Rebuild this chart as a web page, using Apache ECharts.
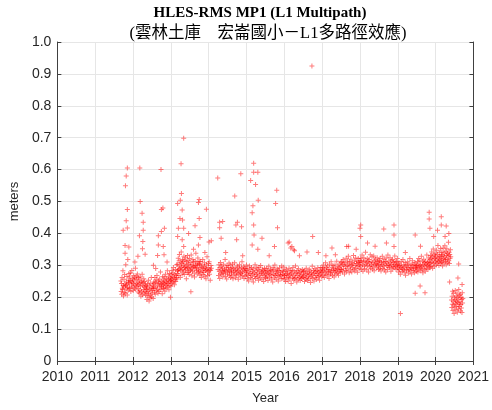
<!DOCTYPE html>
<html>
<head>
<meta charset="utf-8">
<script src="https://cdn.jsdelivr.net/npm/echarts@6/dist/echarts.min.js"></script>
<style>
  html, body { margin: 0; padding: 0; background: #fff; }
  #chart { width: 492px; height: 410px; }
</style>
</head>
<body>
<div id="chart"></div>
<script>
// titles and axis text
const titleLine1 = 'HLES-RMS MP1 (L1 Multipath)';
const titleLine2 = '(雲林土庫　宏崙國小－L1多路徑效應)';
const xTicks = [2010, 2011, 2012, 2013, 2014, 2015, 2016, 2017, 2018, 2019, 2020, 2021];
const yTicks = [0, 0.1, 0.2, 0.3, 0.4, 0.5, 0.6, 0.7, 0.8, 0.9, 1.0];

// daily RMS in blocks (start year, end year, values in order)
const blockFrom = [2011.68, 2011.90, 2012.15, 2012.35, 2012.55, 2012.80, 2013.00, 2013.18, 2013.45, 2013.75,
                   2014.25, 2014.60, 2015.00, 2015.50, 2016.00, 2016.50, 2017.00, 2017.50, 2018.00, 2018.50,
                   2019.00, 2019.50, 2019.85, 2020.15, 2020.42];
const blockTo   = [2011.90, 2012.15, 2012.35, 2012.55, 2012.80, 2013.00, 2013.18, 2013.45, 2013.75, 2014.07,
                   2014.60, 2015.00, 2015.50, 2016.00, 2016.50, 2017.00, 2017.50, 2018.00, 2018.50, 2019.00,
                   2019.50, 2019.85, 2020.15, 2020.40, 2020.72];
const blockValues = [
  [0.251,0.218,0.243,0.209,0.262,0.228,0.224,0.283,0.237,0.204,0.233,0.256,0.215,0.271,0.241,0.212,0.236,0.302,0.226,0.248,0.239,0.265,0.207,0.231,0.318,0.222,0.253,0.245,0.274,0.229],
  [0.244,0.263,0.227,0.252,0.276,0.218,0.249,0.238,0.284,0.232,0.259,0.247,0.221,0.243,0.268,0.254,0.229,0.261,0.236,0.291,0.225,0.257,0.241,0.266,0.234,0.273,0.248,0.239,0.216,0.262],
  [0.228,0.254,0.212,0.243,0.221,0.263,0.234,0.203,0.246,0.217,0.251,0.272,0.208,0.237,0.245,0.224,0.258,0.213,0.232,0.249,0.219,0.241,0.206,0.235,0.226],
  [0.214,0.232,0.193,0.226,0.241,0.204,0.218,0.253,0.211,0.188,0.236,0.223,0.198,0.244,0.207,0.229,0.262,0.201,0.221,0.213,0.238,0.227,0.196,0.233,0.248],
  [0.228,0.243,0.216,0.262,0.209,0.247,0.231,0.254,0.221,0.268,0.238,0.226,0.212,0.251,0.244,0.218,0.257,0.234,0.242,0.279,0.224,0.249,0.233,0.239,0.211,0.264,0.246,0.229],
  [0.238,0.254,0.227,0.263,0.243,0.219,0.251,0.272,0.236,0.229,0.258,0.247,0.241,0.283,0.232,0.256,0.244,0.266,0.223,0.249,0.274,0.237,0.261,0.253,0.234],
  [0.253,0.272,0.258,0.243,0.284,0.264,0.247,0.276,0.293,0.251,0.262,0.239,0.271,0.256,0.287,0.249,0.268,0.261,0.302,0.257,0.274,0.283],
  [0.303,0.282,0.322,0.288,0.268,0.314,0.334,0.291,0.298,0.262,0.284,0.309,0.342,0.294,0.306,0.273,0.318,0.287,0.312,0.279,0.301,0.328,0.271,0.293,0.316,0.297,0.283,0.324,0.289,0.258,0.304,0.311,0.277,0.331,0.292],
  [0.292,0.314,0.278,0.303,0.271,0.321,0.286,0.298,0.283,0.309,0.332,0.289,0.267,0.302,0.281,0.318,0.294,0.311,0.297,0.276,0.263,0.293,0.313,0.299,0.338,0.284,0.291,0.307,0.273,0.301,0.323,0.288,0.279,0.304,0.312],
  [0.281,0.303,0.269,0.292,0.312,0.277,0.262,0.294,0.301,0.283,0.318,0.271,0.289,0.278,0.297,0.308,0.266,0.291,0.284,0.258,0.302,0.287,0.327,0.279,0.268,0.293,0.306,0.282,0.311,0.272,0.288,0.253,0.284,0.299,0.291],
  [0.287,0.268,0.302,0.281,0.259,0.293,0.309,0.276,0.271,0.298,0.284,0.291,0.263,0.279,0.303,0.274,0.288,0.282,0.318,0.266,0.283,0.294,0.257,0.299,0.278,0.272,0.292,0.286,0.307,0.269,0.281,0.301,0.262,0.289,0.277],
  [0.282,0.267,0.293,0.303,0.258,0.279,0.291,0.272,0.308,0.284,0.261,0.288,0.276,0.269,0.298,0.281,0.294,0.256,0.283,0.271,0.302,0.289,0.277,0.263,0.274,0.292,0.311,0.279,0.268,0.286,0.297,0.259,0.291,0.282,0.266,0.289,0.278,0.301],
  [0.272,0.284,0.258,0.291,0.268,0.251,0.279,0.298,0.274,0.262,0.287,0.269,0.293,0.257,0.281,0.273,0.248,0.289,0.277,0.266,0.302,0.259,0.283,0.271,0.292,0.263,0.276,0.286,0.253,0.294,0.267,0.282,0.261,0.299,0.274,0.279,0.256,0.288,0.272,0.284,0.249,0.268,0.291,0.278,0.262],
  [0.281,0.259,0.273,0.291,0.266,0.284,0.252,0.274,0.297,0.279,0.262,0.271,0.288,0.283,0.257,0.269,0.282,0.248,0.293,0.272,0.286,0.261,0.301,0.268,0.279,0.256,0.274,0.289,0.282,0.267,0.251,0.284,0.263,0.292,0.271,0.278,0.269,0.258,0.298,0.283,0.272,0.259,0.281,0.294,0.268],
  [0.268,0.257,0.282,0.249,0.271,0.288,0.262,0.274,0.279,0.251,0.263,0.291,0.269,0.258,0.283,0.272,0.243,0.276,0.284,0.261,0.293,0.267,0.253,0.281,0.259,0.273,0.298,0.262,0.277,0.248,0.284,0.268,0.256,0.289,0.274,0.261,0.278,0.252,0.266,0.282,0.259,0.271,0.287,0.263,0.279],
  [0.262,0.281,0.268,0.249,0.283,0.258,0.272,0.291,0.261,0.274,0.252,0.279,0.266,0.257,0.288,0.271,0.282,0.246,0.263,0.277,0.269,0.297,0.259,0.273,0.284,0.251,0.276,0.289,0.262,0.281,0.268,0.256,0.283,0.274,0.292,0.263,0.279,0.267,0.253,0.284,0.272,0.293,0.278,0.264,0.286],
  [0.279,0.292,0.268,0.301,0.283,0.262,0.289,0.276,0.308,0.271,0.293,0.281,0.298,0.267,0.287,0.279,0.259,0.303,0.286,0.277,0.272,0.311,0.282,0.294,0.268,0.299,0.284,0.291,0.263,0.278,0.302,0.288,0.273,0.283,0.313,0.289,0.276,0.297,0.269,0.292,0.281,0.304,0.287,0.279,0.309],
  [0.298,0.287,0.312,0.279,0.302,0.318,0.289,0.304,0.273,0.309,0.296,0.284,0.322,0.281,0.299,0.313,0.291,0.328,0.303,0.277,0.311,0.297,0.286,0.319,0.301,0.279,0.308,0.292,0.304,0.331,0.288,0.314,0.282,0.299,0.323,0.291,0.306,0.312,0.278,0.297,0.321,0.309,0.289,0.302,0.315],
  [0.309,0.298,0.322,0.287,0.313,0.332,0.301,0.281,0.311,0.324,0.297,0.289,0.314,0.341,0.303,0.308,0.286,0.321,0.299,0.312,0.279,0.318,0.307,0.296,0.333,0.291,0.311,0.302,0.326,0.288,0.309,0.297,0.329,0.283,0.314,0.301,0.319,0.306,0.292,0.303,0.324,0.311,0.298,0.287,0.313],
  [0.302,0.314,0.289,0.321,0.298,0.282,0.309,0.303,0.328,0.291,0.311,0.297,0.319,0.286,0.304,0.312,0.279,0.323,0.299,0.308,0.288,0.332,0.301,0.313,0.293,0.298,0.324,0.307,0.281,0.302,0.316,0.289,0.318,0.296,0.309,0.292,0.303,0.329,0.311,0.297,0.287,0.312,0.301,0.321,0.298],
  [0.291,0.303,0.279,0.308,0.287,0.299,0.272,0.293,0.312,0.297,0.281,0.289,0.318,0.286,0.302,0.278,0.294,0.309,0.269,0.301,0.288,0.283,0.298,0.311,0.292,0.276,0.304,0.287,0.321,0.282,0.293,0.302,0.273,0.291,0.314,0.299,0.284,0.289,0.303,0.277,0.309,0.292,0.298,0.281,0.294],
  [0.299,0.288,0.312,0.279,0.303,0.321,0.291,0.298,0.314,0.283,0.301,0.292,0.328,0.297,0.286,0.311,0.277,0.302,0.319,0.289,0.309,0.298,0.281,0.313,0.304,0.291,0.332,0.299,0.309,0.287,0.303,0.323,0.311,0.296,0.292],
  [0.318,0.307,0.331,0.298,0.322,0.342,0.309,0.328,0.291,0.317,0.351,0.306,0.333,0.297,0.321,0.338,0.311,0.324,0.329,0.301,0.347,0.316,0.308,0.334,0.362,0.312,0.323,0.299,0.341,0.319,0.327,0.306,0.353,0.314,0.332],
  [0.328,0.309,0.342,0.317,0.298,0.333,0.354,0.321,0.307,0.339,0.326,0.361,0.312,0.319,0.344,0.302,0.331,0.352,0.318,0.337,0.308,0.329,0.372,0.314,0.341,0.306,0.334,0.322,0.349,0.327],
  [0.191,0.168,0.203,0.178,0.219,0.158,0.187,0.212,0.176,0.149,0.198,0.169,0.192,0.221,0.181,0.161,0.204,0.188,0.172,0.213,0.153,0.183,0.201,0.194,0.163,0.224,0.179,0.171,0.206,0.186,0.209,0.157,0.177,0.199,0.166,0.193,0.152,0.214,0.182,0.196]
];

// scattered days away from the main band: [year, meters]
const spikes = [
  [2011.74,0.41],[2011.79,0.362],[2011.79,0.338],[2011.80,0.549],[2011.82,0.58],[2011.82,0.44],[2011.85,0.605],[2011.85,0.475],[2011.85,0.417],[2011.89,0.357],
  [2012.05,0.31],[2012.13,0.328],[2012.17,0.393],[2012.18,0.605],[2012.19,0.50],[2012.24,0.463],[2012.27,0.435],[2012.27,0.41],[2012.26,0.375],[2012.25,0.352],[2012.32,0.335],
  [2012.54,0.30],[2012.60,0.29],[2012.65,0.331],[2012.67,0.393],[2012.67,0.364],[2012.74,0.60],[2012.75,0.475],[2012.75,0.406],[2012.79,0.48],[2012.80,0.359],[2012.82,0.333],[2012.83,0.416],[2012.90,0.31],[2012.99,0.20],
  [2013.18,0.494],[2013.18,0.39],[2013.20,0.416],[2013.24,0.447],[2013.25,0.504],[2013.27,0.618],[2013.28,0.525],[2013.30,0.473],[2013.30,0.38],[2013.31,0.442],[2013.34,0.698],[2013.34,0.416],[2013.34,0.359],[2013.47,0.40],[2013.53,0.217],
  [2013.60,0.35],[2013.64,0.424],[2013.73,0.497],[2013.73,0.364],[2013.75,0.506],[2013.75,0.447],[2013.77,0.387],[2013.90,0.34],[2013.94,0.476],[2014.01,0.373],[2014.07,0.377],
  [2014.24,0.574],[2014.29,0.435],[2014.29,0.418],[2014.33,0.385],[2014.37,0.437],[2014.45,0.34],[2014.69,0.517],[2014.72,0.426],[2014.74,0.38],[2014.76,0.435],[2014.85,0.587],[2014.87,0.421],[2014.90,0.33],
  [2015.11,0.566],[2015.15,0.465],[2015.15,0.364],[2015.17,0.487],[2015.19,0.62],[2015.19,0.592],[2015.19,0.426],[2015.20,0.395],[2015.24,0.553],[2015.30,0.592],[2015.31,0.504],[2015.30,0.35],[2015.41,0.385],
  [2015.60,0.33],[2015.74,0.359],[2015.77,0.494],[2015.80,0.535],[2015.82,0.418],
  [2016.10,0.37],[2016.13,0.373],[2016.17,0.354],[2016.20,0.359],[2016.25,0.349],[2016.27,0.346],[2016.40,0.33],[2016.60,0.342],[2016.73,0.925],[2016.75,0.39],[2016.90,0.34],
  [2017.10,0.33],[2017.26,0.354],[2017.35,0.333],[2017.65,0.359],[2017.70,0.36],[2017.90,0.35],[2018.00,0.416],[2018.02,0.426],[2018.02,0.39],[2018.20,0.37],[2018.40,0.36],
  [2018.63,0.414],[2018.70,0.37],[2018.90,0.426],[2018.90,0.395],[2018.90,0.359],
  [2019.07,0.149],[2019.20,0.34],[2019.46,0.395],[2019.46,0.212],[2019.59,0.235],[2019.60,0.36],[2019.72,0.214],[2019.83,0.466],[2019.83,0.445],[2019.85,0.416],[2019.95,0.39],
  [2020.05,0.41],[2020.15,0.452],[2020.15,0.426],[2020.25,0.39],[2020.28,0.423],[2020.35,0.40],
  [2020.37,0.248],[2020.59,0.26],[2020.61,0.304],[2020.70,0.24]
];

// build the [x, y] pairs, points evenly spaced inside each block
const points = [];
blockValues.forEach(function (vals, b) {
  const step = (blockTo[b] - blockFrom[b]) / (vals.length - 1);
  vals.forEach(function (v, i) {
    points.push([blockFrom[b] + i * step, v]);
  });
});
spikes.forEach(function (p) { points.push(p); });

const axisColor = '#404040';
const plusMark = 'path://M2,0H3V2H5V3H3V5H2V3H0V2H2Z';

const chart = echarts.init(document.getElementById('chart'), null, { renderer: 'canvas' });
chart.setOption({
  animation: false,
  backgroundColor: '#fff',
  graphic: [
    {
      type: 'text', x: 260, y: 13,
      style: {
        text: titleLine1, textAlign: 'center', textVerticalAlign: 'middle', fill: '#000',
        font: 'bold 15px "Liberation Serif", "Times New Roman", serif'
      }
    },
    {
      type: 'text', x: 268, y: 34,
      style: {
        text: titleLine2, textAlign: 'center', textVerticalAlign: 'middle', fill: '#000',
        font: '16.5px "Liberation Serif", "Noto Sans CJK TC", serif'
      }
    }
  ],
  grid: { left: 51, right: 16, top: 42, bottom: 46, containLabel: false },
  xAxis: [
    {
      type: 'value', min: xTicks[0], max: xTicks[xTicks.length - 1], interval: 1,
      name: 'Year', nameLocation: 'middle', nameGap: 31,
      nameTextStyle: { color: '#262626', fontSize: 13, fontFamily: '"Liberation Sans", Arial, sans-serif' },
      axisLine: { lineStyle: { color: axisColor, width: 1 } },
      axisTick: { inside: true, length: 4, lineStyle: { color: axisColor } },
      axisLabel: {
        color: '#262626', fontSize: 14, margin: 9, fontFamily: '"Liberation Sans", Arial, sans-serif',
        formatter: function (v) { return String(v); }
      },
      splitLine: { show: true, lineStyle: { color: '#e6e6e6' } }
    },
    {
      type: 'value', position: 'top', min: xTicks[0], max: xTicks[xTicks.length - 1], interval: 1,
      axisLine: { lineStyle: { color: axisColor, width: 1 } },
      axisTick: { inside: true, length: 4, lineStyle: { color: axisColor } },
      axisLabel: { show: false },
      splitLine: { show: false }
    }
  ],
  yAxis: [
    {
      type: 'value', min: yTicks[0], max: yTicks[yTicks.length - 1], interval: 0.1,
      name: 'meters', nameLocation: 'middle', nameGap: 36,
      nameTextStyle: { color: '#262626', fontSize: 13, fontFamily: '"Liberation Sans", Arial, sans-serif' },
      axisLine: { show: true, lineStyle: { color: axisColor, width: 1 } },
      axisTick: { show: true, inside: true, length: 4, lineStyle: { color: axisColor } },
      axisLabel: {
        color: '#262626', fontSize: 14, margin: 6, fontFamily: '"Liberation Sans", Arial, sans-serif',
        formatter: function (v) { return v === 0 ? '0' : v.toFixed(1); }
      },
      splitLine: { show: true, lineStyle: { color: '#e6e6e6' } }
    },
    {
      type: 'value', position: 'right', min: yTicks[0], max: yTicks[yTicks.length - 1], interval: 0.1,
      axisLine: { show: true, lineStyle: { color: axisColor, width: 1 } },
      axisTick: { show: true, inside: true, length: 4, lineStyle: { color: axisColor } },
      axisLabel: { show: false },
      splitLine: { show: false }
    }
  ],
  series: [
    {
      type: 'scatter',
      data: points,
      symbol: plusMark,
      symbolSize: 5,
      itemStyle: { color: 'rgba(255, 0, 0, 0.65)' }
    }
  ]
});
</script>
</body>
</html>
